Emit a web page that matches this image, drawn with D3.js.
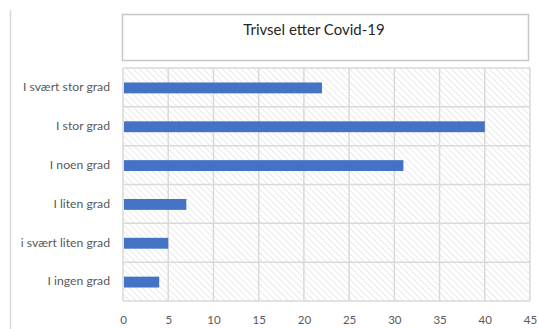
<!DOCTYPE html>
<html>
<head>
<meta charset="utf-8">
<script src="https://cdn.jsdelivr.net/npm/d3@7"></script>
<style>
  body { margin: 0; background: #fff; }
  text { font-family: Lato, "Liberation Sans", sans-serif; }
</style>
</head>
<body>
<div id="chart"></div>
<script>
var categories = ["I svært stor grad", "I stor grad", "I noen grad", "I liten grad", "i svært liten grad", "I ingen grad"];
var values = [22, 40, 31, 7, 5, 4];
var xTicks = [0, 5, 10, 15, 20, 25, 30, 35, 40, 45];
var title = "Trivsel etter Covid-19";

var w = 539;
var h = 329;
var plotLeft = 123, plotRight = 530, plotTop = 68, plotBottom = 301;

var svg = d3.select("#chart").append("svg")
  .attr("width", w)
  .attr("height", h);

// hatch fill for plot area
var pat = svg.append("defs").append("pattern")
  .attr("id", "hatch")
  .attr("patternUnits", "userSpaceOnUse")
  .attr("width", 4.5)
  .attr("height", 4.5)
  .attr("patternTransform", "rotate(-45)");
pat.append("line")
  .attr("x1", 0).attr("y1", 0).attr("x2", 0).attr("y2", 4.5)
  .attr("stroke", "#d4d4d4")
  .attr("stroke-width", 1);

// left frame line
svg.append("line")
  .attr("x1", 10.5).attr("x2", 10.5)
  .attr("y1", 10).attr("y2", h)
  .attr("stroke", "#d9d9d9")
  .attr("stroke-width", 1.5);

// title box
svg.append("rect")
  .attr("x", 122.5).attr("y", 14.5)
  .attr("width", 406).attr("height", 46)
  .attr("fill", "#fff")
  .attr("stroke", "#c8c8c8")
  .attr("stroke-width", 1.5);
svg.append("text")
  .attr("x", 314).attr("y", 35)
  .attr("text-anchor", "middle")
  .attr("font-size", 15)
  .attr("fill", "#262626")
  .text(title);

var x = d3.scaleLinear()
  .domain([0, 45])
  .range([plotLeft, plotRight]);

var y = d3.scaleBand()
  .domain(categories)
  .range([plotTop, plotBottom])
  .padding(0);

svg.append("rect")
  .attr("x", plotLeft).attr("y", plotTop)
  .attr("width", plotRight - plotLeft).attr("height", plotBottom - plotTop)
  .attr("fill", "url(#hatch)");

// vertical gridlines
svg.append("g")
  .selectAll("line")
  .data(xTicks)
  .enter()
  .append("line")
  .attr("x1", function(d) { return x(d); })
  .attr("x2", function(d) { return x(d); })
  .attr("y1", plotTop).attr("y2", plotBottom)
  .attr("stroke", "#d9d9d9")
  .attr("stroke-width", 1.5);

// horizontal gridlines at band edges
var edges = categories.map(function(c) { return y(c); }).concat([plotBottom]);
svg.append("g")
  .selectAll("line")
  .data(edges)
  .enter()
  .append("line")
  .attr("x1", plotLeft).attr("x2", plotRight)
  .attr("y1", function(d) { return d; })
  .attr("y2", function(d) { return d; })
  .attr("stroke", "#d9d9d9")
  .attr("stroke-width", 1.5);

// bars
var barH = y.bandwidth() * 0.28;
svg.selectAll(".bar")
  .data(values)
  .enter()
  .append("rect")
  .attr("class", "bar")
  .attr("x", x(0) + 1)
  .attr("y", function(d, i) { return y(categories[i]) + y.bandwidth() / 2 - barH / 2 + 0.5; })
  .attr("width", function(d) { return x(d) - x(0) - 1; })
  .attr("height", barH)
  .attr("fill", "#4472c4");

// x axis labels
var xAxis = svg.append("g")
  .attr("transform", "translate(0," + (plotBottom + 15) + ")")
  .call(d3.axisBottom(x).tickValues(xTicks).tickSize(0).tickPadding(0));
xAxis.select(".domain").remove();
xAxis.selectAll("text")
  .attr("dy", "0.71em")
  .attr("font-size", 11.5)
  .attr("font-family", "Lato, 'Liberation Sans', sans-serif")
  .attr("fill", "#595959");

// y axis labels
var yAxis = svg.append("g")
  .attr("transform", "translate(110,0)")
  .call(d3.axisLeft(y).tickSize(0).tickPadding(0));
yAxis.select(".domain").remove();
yAxis.selectAll("text")
  .attr("font-size", 12.2)
  .attr("font-family", "Lato, 'Liberation Sans', sans-serif")
  .attr("fill", "#595959");
</script>
</body>
</html>
